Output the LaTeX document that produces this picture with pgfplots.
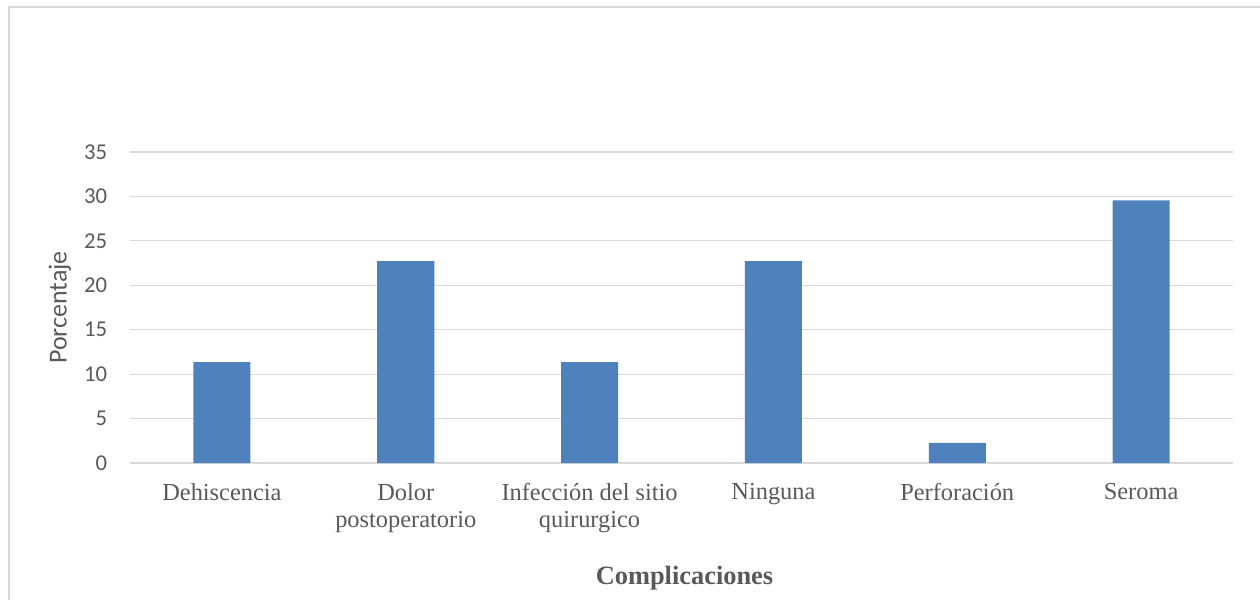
\documentclass[border=0pt]{standalone}
\usepackage{pgfplots}
\pgfplotsset{compat=1.18}
\usepackage{fontspec}
\setmainfont{Liberation Serif}
\newfontfamily\carlito{Carlito}
\definecolor{barblue}{HTML}{4F81BD}
\definecolor{gridgray}{HTML}{D9D9D9}
\definecolor{txtgray}{HTML}{595959}
\begin{document}
\begin{tikzpicture}
% page frame and the chart's outer border
\path[use as bounding box] (-97.5pt,-102.75pt) rectangle (847.5pt,347.25pt);
\draw[gridgray, line width=1.1pt] (-90.75pt,-102.75pt) -- (-90.75pt,342pt) -- (847.5pt,342pt);
\begin{axis}[
  at={(0,0)}, anchor=south west,
  scale only axis,
  width=827.25pt, height=233.25pt,
  ymin=0, ymax=35,
  xmin=-0.5, xmax=5.5,
  ytick={0,5,...,35},
  xtick=data,
  xticklabels={Dehiscencia,{Dolor\\postoperatorio},{Infección del sitio\\quirurgico},Ninguna,Perforación,Seroma},
  major tick length=0pt,
  axis line style={draw=none},
  ymajorgrids,
  grid style={gridgray, line width=0.8pt},
  /pgf/number format/assume math mode=true,
  yticklabel style={font=\carlito\fontsize{17}{20}\selectfont, text=txtgray, anchor=east, inner sep=0pt, xshift=-17pt},
  xticklabel style={font=\fontsize{18.3}{20.5}\selectfont, text=txtgray, align=center, anchor=north, inner sep=0pt, yshift=-15pt},
  ylabel={Porcentaje},
  ylabel style={font=\carlito\fontsize{19.5}{22}\selectfont, text=txtgray, at={(axis description cs:-0.0635,0.5)}, anchor=center, rotate=0},
  xlabel={\textbf{Complicaciones}},
  xlabel style={font=\fontsize{19.8}{22}\selectfont, text=txtgray, at={(axis description cs:0.5,0)}, anchor=base, yshift=-90.75pt, xshift=2.25pt},
  ybar, bar width=42.75pt,
]
\addplot[draw=none, fill=barblue] coordinates {
  (0,11.36) (1,22.73) (2,11.36) (3,22.73) (4,2.27) (5,29.55)
};
\end{axis}
\end{tikzpicture}
\end{document}
